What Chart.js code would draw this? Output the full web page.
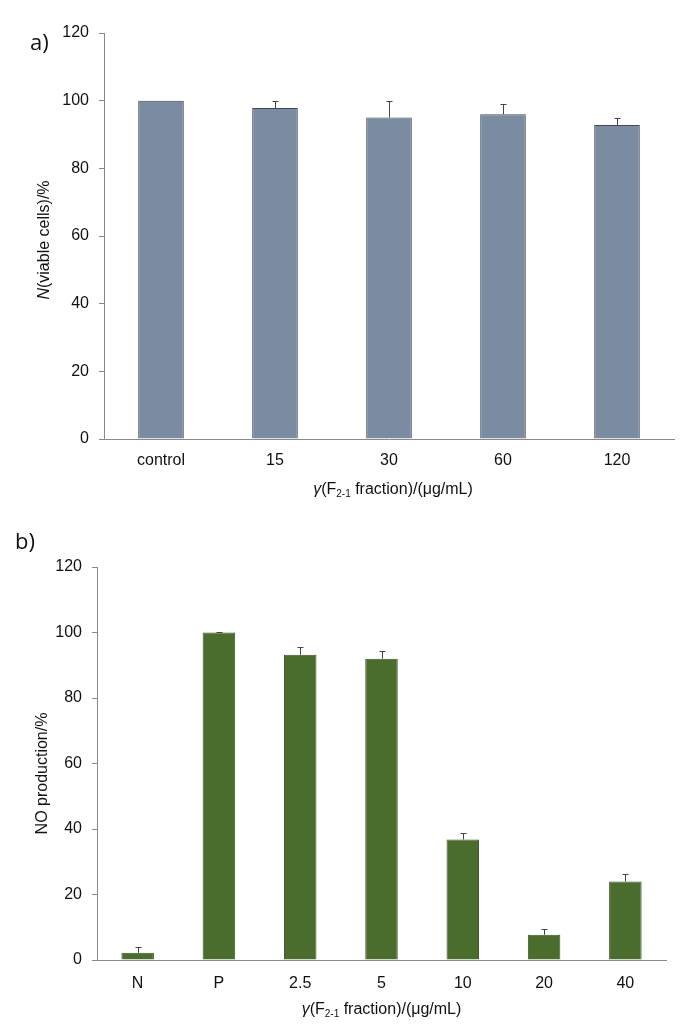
<!DOCTYPE html>
<html>
<head>
<meta charset="utf-8">
<script src="https://cdn.jsdelivr.net/npm/chart.js@4/dist/chart.umd.min.js"></script>
<style>
  body { margin: 0; background: #fff; width: 693px; height: 1027px; position: relative; overflow: hidden; }
  .box { position: absolute; left: 0; width: 693px; }
  .tag { position: absolute; font-family: "Open Sans", sans-serif; font-size: 22px; color: #111; }
</style>
</head>
<body>
<div class="box" style="top:0;height:505px"><canvas id="chartA"></canvas></div>
<div class="box" style="top:515px;height:512px"><canvas id="chartB"></canvas></div>
<div class="tag" style="left:30px;top:26px">a)</div>
<div class="tag" style="left:15px;top:525px">b)</div>
<script>
// panel a: cell viability
const catsA = ['control', '15', '30', '60', '120'];
const valsA = [100, 97.8, 95, 96, 92.8];
const errA = [0, 2.2, 4.8, 3, 2];

// panel b: NO production
const catsB = ['N', 'P', '2.5', '5', '10', '20', '40'];
const valsB = [2.2, 100, 93.2, 92, 36.8, 7.7, 24];
const errB = [1.8, 0.2, 2.4, 2.2, 2, 1.8, 2.2];

const yMin = 0, yMax = 120, yStep = 20;

const FONT = '"Liberation Sans", Arial, sans-serif';

// x title shared by both panels: γ(F2-1 fraction)/(μg/mL)
const xTitleParts = [
  { t: 'γ', italic: true },
  { t: '(F' },
  { t: '2-1', sub: true },
  { t: ' fraction)/(μg/mL)' }
];

function drawParts(ctx, parts, cx, cy, size) {
  const fontFor = p => (p.italic ? 'italic ' : '') + (p.sub ? Math.round(size * 0.65) : size) + 'px ' + FONT;
  let total = 0;
  parts.forEach(p => { ctx.font = fontFor(p); total += ctx.measureText(p.t).width; });
  let x = cx - total / 2;
  ctx.textBaseline = 'middle';
  ctx.textAlign = 'left';
  ctx.fillStyle = '#111';
  parts.forEach(p => {
    ctx.font = fontFor(p);
    ctx.fillText(p.t, x, p.sub ? cy + size * 0.28 : cy);
    x += ctx.measureText(p.t).width;
  });
}

// error bars (upper only) and axis titles
const extras = {
  id: 'extras',
  afterDatasetsDraw(chart, args, opts) {
    const ctx = chart.ctx;
    const y = chart.scales.y;
    const meta = chart.getDatasetMeta(0);
    ctx.save();
    ctx.strokeStyle = '#444';
    ctx.lineWidth = 1;
    meta.data.forEach((bar, i) => {
      const v = opts.values[i], e = opts.errors[i];
      if (!e) return;
      const y0 = y.getPixelForValue(v);
      const y1 = y.getPixelForValue(v + e);
      const x = Math.round(bar.x) + 0.5;
      ctx.beginPath();
      ctx.moveTo(x, y0);
      ctx.lineTo(x, Math.round(y1) + 0.5);
      ctx.moveTo(x - 3, Math.round(y1) + 0.5);
      ctx.lineTo(x + 3, Math.round(y1) + 0.5);
      ctx.stroke();
    });
    ctx.restore();
  },
  afterDraw(chart, args, opts) {
    const ctx = chart.ctx;
    const area = chart.chartArea;
    ctx.save();
    drawParts(ctx, xTitleParts, (area.left + area.right) / 2 + opts.xTitleShift, opts.xTitleY, 16);
    ctx.translate(opts.yTitleX, (area.top + area.bottom) / 2 + opts.yTitleShift);
    ctx.rotate(-Math.PI / 2);
    drawParts(ctx, opts.yTitle, 0, 0, 16);
    ctx.restore();
  }
};

function makeChart(id, cats, vals, errs, fill, stroke, geo, yTitle) {
  return new Chart(document.getElementById(id), {
    type: 'bar',
    data: {
      labels: cats,
      datasets: [{
        data: vals,
        backgroundColor: fill,
        borderColor: stroke,
        borderWidth: 1,
        categoryPercentage: 1,
        barPercentage: 0.4
      }]
    },
    options: {
      responsive: true,
      maintainAspectRatio: false,
      animation: false,
      layout: { padding: { top: geo.top, right: geo.right, left: 0, bottom: 0 } },
      plugins: {
        legend: { display: false },
        tooltip: { enabled: false },
        extras: {
          values: vals, errors: errs, yTitle: yTitle,
          xTitleY: geo.xTitleY, xTitleShift: geo.xTitleShift,
          yTitleX: geo.yTitleX, yTitleShift: geo.yTitleShift
        }
      },
      scales: {
        x: {
          grid: { display: false, drawTicks: false },
          border: { display: true, color: '#8a8a8a', width: 1 },
          ticks: { color: '#111', font: { family: FONT, size: 16 }, padding: geo.xPad, maxRotation: 0 },
          afterFit: s => { s.height = geo.xHeight; }
        },
        y: {
          min: yMin, max: yMax,
          grid: { drawOnChartArea: false, drawTicks: true, tickLength: 5, color: '#8a8a8a' },
          border: { display: true, color: '#8a8a8a', width: 1 },
          ticks: { stepSize: yStep, color: '#111', font: { family: FONT, size: 16 }, padding: 10 },
          afterFit: s => { s.width = geo.yWidth; }
        }
      }
    },
    plugins: [extras]
  });
}

makeChart('chartA', catsA, valsA, errA, '#7b8ba2', '#3f4856',
  { top: 33, right: 19, yWidth: 104, xHeight: 66, xPad: 12, xTitleY: 490, xTitleShift: 4, yTitleX: 45, yTitleShift: 4 },
  [{ t: 'N', italic: true }, { t: '(viable cells)/%' }]);

makeChart('chartB', catsB, valsB, errB, '#4a6c2c', '#3a5622',
  { top: 52, right: 27, yWidth: 97, xHeight: 67, xPad: 14, xTitleY: 495, xTitleShift: 0, yTitleX: 43, yTitleShift: 10 },
  [{ t: 'NO production/%' }]);
</script>
</body>
</html>
